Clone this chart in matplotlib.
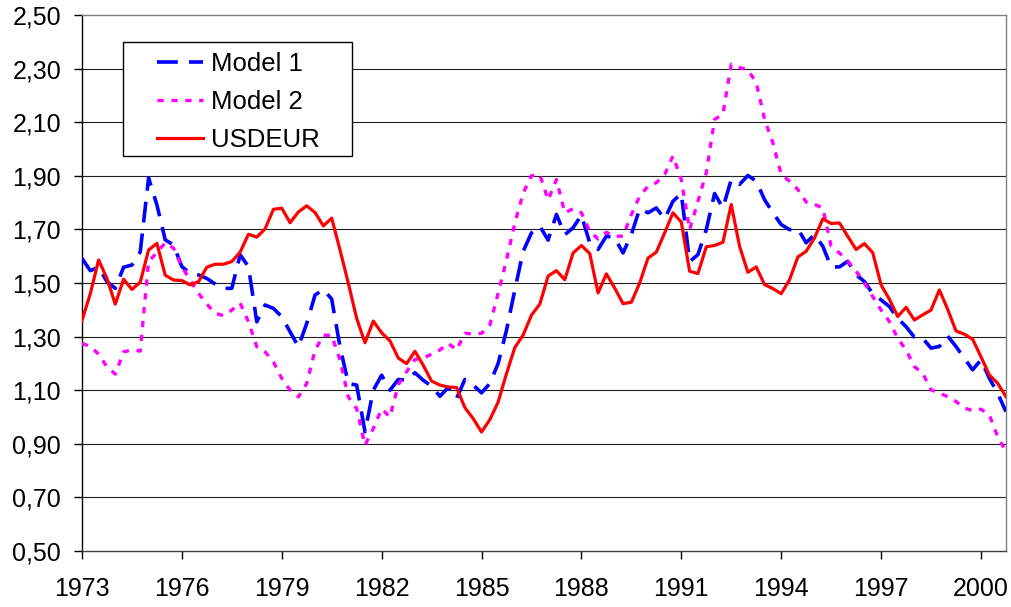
import numpy as np
import matplotlib
matplotlib.use('Agg')
import matplotlib.pyplot as plt
from matplotlib.patches import Rectangle

plt.rcParams['font.family'] = ['Liberation Sans', 'DejaVu Sans']
plt.rcParams['lines.scale_dashes'] = False

# quarterly data, 1973Q1 .. 2000Q4
start_year = 1973
usdeur = [1.36, 1.46, 1.586, 1.517, 1.421, 1.514, 1.476, 1.503, 1.623, 1.648,
          1.529, 1.511, 1.509, 1.493, 1.505, 1.559, 1.570, 1.570, 1.580, 1.615,
          1.682, 1.671, 1.702, 1.775, 1.779, 1.725, 1.765, 1.788, 1.763, 1.713,
          1.742, 1.623, 1.499, 1.368, 1.277, 1.358, 1.314, 1.284, 1.220, 1.199,
          1.245, 1.193, 1.134, 1.119, 1.112, 1.110, 1.035, 0.994, 0.944, 0.990,
          1.056, 1.162, 1.259, 1.306, 1.380, 1.421, 1.526, 1.546, 1.512, 1.612,
          1.640, 1.610, 1.463, 1.534, 1.481, 1.423, 1.428, 1.500, 1.593, 1.615,
          1.687, 1.762, 1.727, 1.544, 1.535, 1.635, 1.640, 1.652, 1.793, 1.637,
          1.540, 1.560, 1.494, 1.479, 1.460, 1.512, 1.597, 1.618, 1.668, 1.739,
          1.722, 1.724, 1.674, 1.625, 1.647, 1.613, 1.493, 1.439, 1.375, 1.409,
          1.362, 1.381, 1.399, 1.474, 1.402, 1.321, 1.309, 1.290, 1.225, 1.157,
          1.126, 1.076]
model1 = [1.592, 1.546, 1.559, 1.505, 1.480, 1.559, 1.567, 1.616, 1.892, 1.792,
          1.661, 1.642, 1.561, 1.536, 1.530, 1.517, 1.496, 1.480, 1.480, 1.605,
          1.561, 1.355, 1.418, 1.405, 1.374, 1.318, 1.262, 1.349, 1.455, 1.476,
          1.440, 1.262, 1.125, 1.119, 0.945, 1.100, 1.156, 1.100, 1.140, 1.137,
          1.165, 1.137, 1.115, 1.077, 1.110, 1.069, 1.140, 1.119, 1.090, 1.125,
          1.200, 1.324, 1.474, 1.618, 1.687, 1.712, 1.660, 1.756, 1.680, 1.706,
          1.753, 1.650, 1.625, 1.675, 1.668, 1.612, 1.681, 1.777, 1.762, 1.780,
          1.739, 1.805, 1.834, 1.580, 1.606, 1.699, 1.834, 1.780, 1.886, 1.868,
          1.901, 1.880, 1.811, 1.762, 1.718, 1.699, 1.702, 1.650, 1.681, 1.637,
          1.560, 1.560, 1.581, 1.531, 1.505, 1.460, 1.437, 1.412, 1.368, 1.337,
          1.298, 1.294, 1.257, 1.263, 1.302, 1.263, 1.219, 1.176, 1.213, 1.145,
          1.089, 1.020]
model2 = [1.274, 1.264, 1.234, 1.187, 1.160, 1.243, 1.250, 1.246, 1.580, 1.613,
          1.650, 1.630, 1.561, 1.511, 1.461, 1.421, 1.387, 1.378, 1.399, 1.425,
          1.355, 1.262, 1.243, 1.206, 1.144, 1.100, 1.075, 1.125, 1.249, 1.305,
          1.305, 1.212, 1.075, 1.031, 0.895, 0.957, 1.030, 1.000, 1.120, 1.169,
          1.215, 1.219, 1.235, 1.250, 1.275, 1.250, 1.312, 1.310, 1.312, 1.343,
          1.462, 1.586, 1.723, 1.835, 1.900, 1.904, 1.810, 1.886, 1.762, 1.777,
          1.762, 1.693, 1.664, 1.689, 1.674, 1.675, 1.755, 1.824, 1.861, 1.874,
          1.905, 1.974, 1.886, 1.699, 1.805, 1.911, 2.110, 2.130, 2.316, 2.304,
          2.295, 2.248, 2.111, 2.023, 1.905, 1.880, 1.849, 1.802, 1.793, 1.780,
          1.637, 1.612, 1.581, 1.544, 1.500, 1.449, 1.399, 1.356, 1.294, 1.250,
          1.188, 1.163, 1.101, 1.089, 1.076, 1.058, 1.033, 1.024, 1.029, 1.008,
          0.927, 0.871]
year_ticks = list(range(1973, 2001, 3))
y_ticks = [0.5, 0.7, 0.9, 1.1, 1.3, 1.5, 1.7, 1.9, 2.1, 2.3, 2.5]

x = start_year + np.arange(len(usdeur)) / 4.0

fig = plt.figure(figsize=(10.12, 6.07), dpi=100)
ax = fig.add_axes([0.081, 0.0923, 0.913, 0.883])

for yv in y_ticks[1:-1]:
    ax.axhline(yv, color='#202020', lw=0.8, zorder=1)

ax.plot(x, model1, color='#0000FF', lw=2.6, dashes=(15, 8), label='Model 1', zorder=3)
ax.plot(x, model2, color='#FF00FF', lw=2.4, dashes=(4.5, 5.5), label='Model 2', zorder=3)
ax.plot(x, usdeur, color='#FF0000', lw=2.3, label='USDEUR', zorder=4)

ax.set_xlim(x[0], x[-1])
ax.set_ylim(0.5, 2.5)
ax.set_xticks(year_ticks)
ax.set_xticklabels([str(v) for v in year_ticks])
ax.set_yticks(y_ticks)
ax.set_yticklabels(['{:.2f}'.format(v).replace('.', ',') for v in y_ticks])
ax.tick_params(axis='both', labelsize=18, length=6, width=1, color='black', direction='out')
ax.tick_params(axis='y', pad=9)
ax.tick_params(axis='x', pad=13)

ax.spines['left'].set_color('black')
ax.spines['bottom'].set_color('#404040')
ax.spines['top'].set_color('#808080')
ax.spines['right'].set_color('#808080')
for s in ax.spines.values():
    s.set_linewidth(1.0)

# legend box drawn separately (wide side padding), entries on top of it
box = Rectangle((123 / 1012, 1 - 156 / 607), 229 / 1012, 114 / 607,
                transform=fig.transFigure, facecolor='white',
                edgecolor='black', lw=1.0, zorder=5, clip_on=False)
ax.add_patch(box)
leg = ax.legend(loc='upper left', bbox_to_anchor=(0.0812, 0.931), borderaxespad=0,
                fontsize=18.5, frameon=False, handlelength=1.8,
                handletextpad=0.32, borderpad=0.0, labelspacing=0.55)
leg.set_zorder(6)

plt.savefig('out.png', dpi=100)
